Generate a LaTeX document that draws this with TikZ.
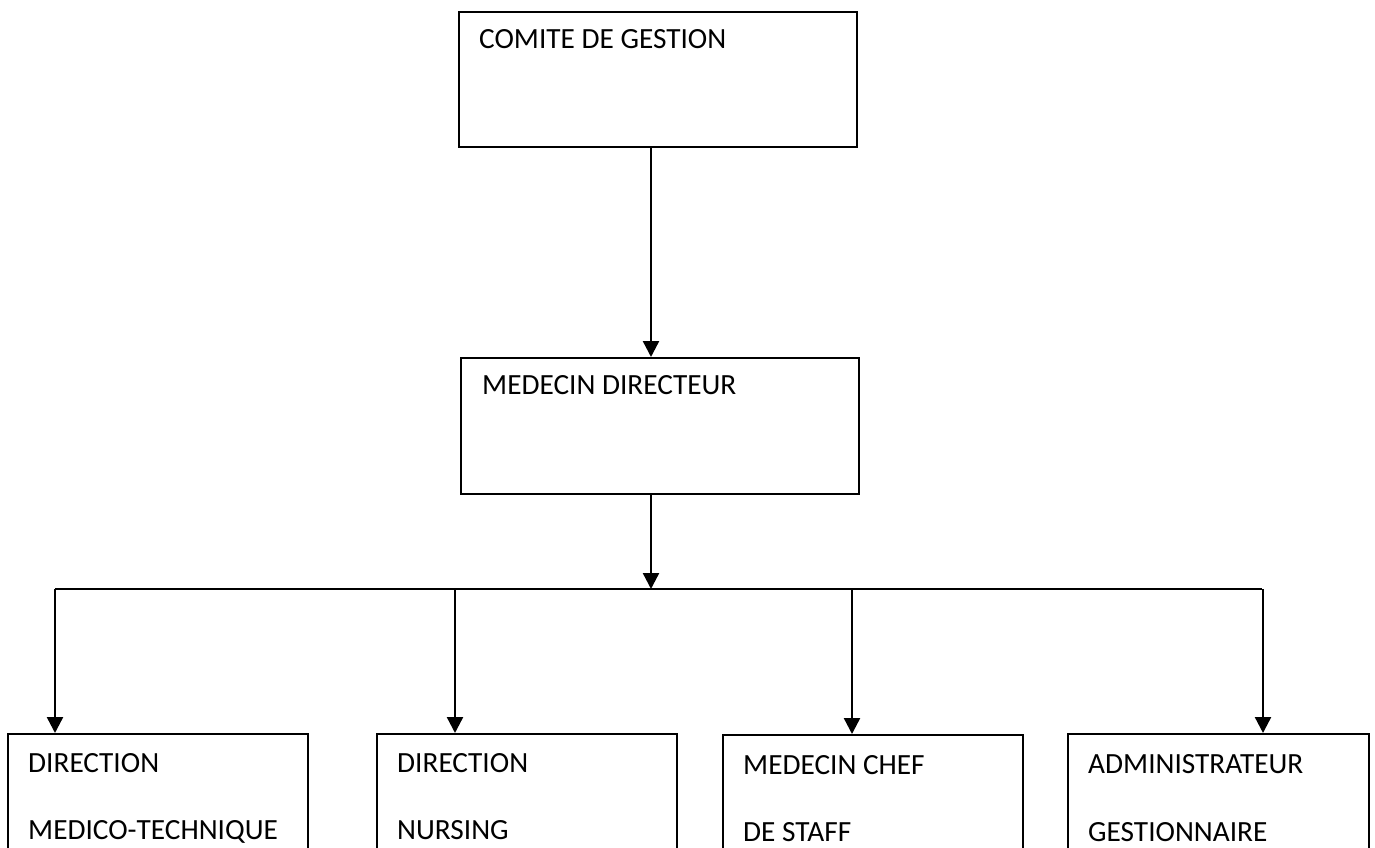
\documentclass[tikz,border=0pt]{standalone}
\usepackage{fontspec}
\setmainfont{Carlito}
\usetikzlibrary{arrows.meta,calc}
\begin{document}
\begin{tikzpicture}[x=1pt,y=-1pt,
  box/.style={draw,line width=1.8pt,anchor=north west,inner sep=0pt},
  txt/.style={anchor=base west,inner sep=0pt,font=\fontsize{29.3}{34}\selectfont},
  arr/.style={line width=2.4pt,-{Triangle[width=16pt,length=16pt]}},
  ln/.style={line width=2.2pt}]
\useasboundingbox (0,0) rectangle (1375,848);
\clip (0,0) rectangle (1375,848);
% boxes
\node[box,minimum width=398pt,minimum height=135pt] (cg) at (458,11) {};
\node[box,minimum width=398pt,minimum height=136pt] (md) at (460,357) {};
\node[box,minimum width=300pt,minimum height=140pt] (b1) at (7,733) {};
\node[box,minimum width=300pt,minimum height=140pt] (b2) at (376,733) {};
\node[box,minimum width=300pt,minimum height=140pt] (b3) at (722,734) {};
\node[box,minimum width=301pt,minimum height=140pt] (b4) at (1067,733) {};
% texts
\node[txt] (tcg) at (479,49) {COMITE DE GESTION};
\node[txt] (tmd) at (482,394) {MEDECIN DIRECTEUR};
\node[txt] (t1a) at (28,772) {DIRECTION};
\node[txt] (t1b) at (28,839) {MEDICO-TECHNIQUE};
\node[txt] (t2a) at (397,772) {DIRECTION};
\node[txt] (t2b) at (397,839) {NURSING};
\node[txt] (t3a) at (743,774) {MEDECIN CHEF};
\node[txt] (t3b) at (743,841) {DE STAFF};
\node[txt] (t4a) at (1088,773) {ADMINISTRATEUR};
\node[txt] (t4b) at (1088,841) {GESTIONNAIRE};
% connectors
\coordinate (j) at (651,589);
\coordinate (hl) at (55,589);
\coordinate (hr) at (1262,589);
\coordinate (a1) at (55,589);
\coordinate (a2) at (455,589);
\coordinate (a3) at (852,589);
\coordinate (a4) at (1263,589);
\draw[arr] (cg.south -| j) -- (md.north -| j);
\draw[arr] (md.south -| j) -- (j);
\draw[ln] (hl) -- (hr);
\draw[arr] (a1) -- (a1 |- b1.north);
\draw[arr] (a2) -- (a2 |- b2.north);
\draw[arr] (a3) -- (a3 |- b3.north);
\draw[arr] (a4) -- (a4 |- b4.north);
\end{tikzpicture}
\end{document}
